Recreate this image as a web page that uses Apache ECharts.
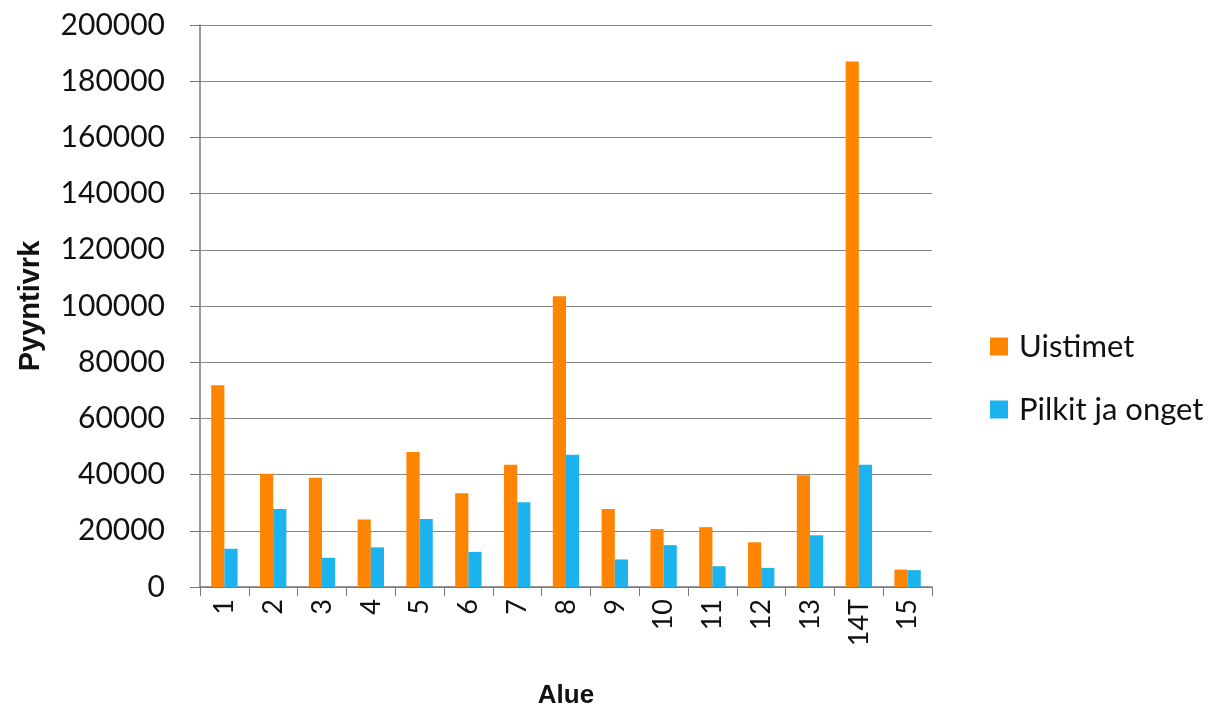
<!DOCTYPE html>
<html><head><meta charset="utf-8">
<script src="https://cdn.jsdelivr.net/npm/echarts@6/dist/echarts.min.js"></script>
<style>html,body{margin:0;padding:0;background:#fff;overflow:hidden}#c{width:1223px;height:713px}</style>
</head><body><div id="c"></div>
<script>
const categories = ['1','2','3','4','5','6','7','8','9','10','11','12','13','14T','15'];
const uistimet = [71800, 40300, 38900, 24000, 48000, 33400, 43500, 103500, 27800, 20600, 21300, 15900, 39800, 187000, 6200];
const pilkit = [13600, 27800, 10400, 14100, 24200, 12500, 30200, 47100, 9800, 14900, 7400, 6800, 18400, 43500, 6000];
const seriesNames = ['Uistimet', 'Pilkit ja onget'];
const yTitle = 'Pyyntivrk';
const xTitle = 'Alue';

const chart = echarts.init(document.getElementById('c'));
chart.setOption({
  animation: false,
  backgroundColor: '#fff',
  grid: { left: 200, width: 732, top: 25, height: 562, containLabel: false, outerBoundsMode: 'none' },
  legend: {
    orient: 'vertical', left: 985, top: 326,
    itemWidth: 18, itemHeight: 18, itemGap: 32,
    icon: 'rect',
    textStyle: { fontFamily: 'Lato', fontSize: 31, color: '#111', padding: [0,0,0,6] },
    data: seriesNames
  },
  xAxis: {
    type: 'category', data: categories,
    name: xTitle, nameLocation: 'middle', nameGap: 96,
    nameTextStyle: { fontFamily: 'Liberation Sans', fontWeight: 'bold', fontSize: 26, color: '#111' },
    axisLine: { lineStyle: { color: '#777', width: 1.5 } },
    axisTick: { show: true, length: 9, lineStyle: { color: '#777' } },
    axisLabel: { rotate: 90, margin: 12, fontFamily: 'Lato', fontSize: 27, color: '#111' }
  },
  yAxis: {
    type: 'value', min: 0, max: 200000, interval: 20000,
    name: yTitle, nameLocation: 'middle', nameGap: 155,
    nameTextStyle: { fontFamily: 'Liberation Sans', fontWeight: 'bold', fontSize: 29, color: '#111' },
    axisLine: { show: true, lineStyle: { color: '#777', width: 1.5 } },
    axisTick: { show: true, length: 10, lineStyle: { color: '#777' } },
    axisLabel: { margin: 35, fontFamily: 'Lato', fontSize: 30, color: '#111', formatter: v => String(v) },
    splitLine: { show: true, lineStyle: { color: '#888', width: 1.2 } }
  },
  series: [
    { name: seriesNames[0], type: 'bar', data: uistimet, itemStyle: { color: '#FF8400' },
      barGap: '0%', barCategoryGap: '46%' },
    { name: seriesNames[1], type: 'bar', data: pilkit, itemStyle: { color: '#1DB3EE' },
      barGap: '0%', barCategoryGap: '46%' }
  ]
});
</script></body></html>
